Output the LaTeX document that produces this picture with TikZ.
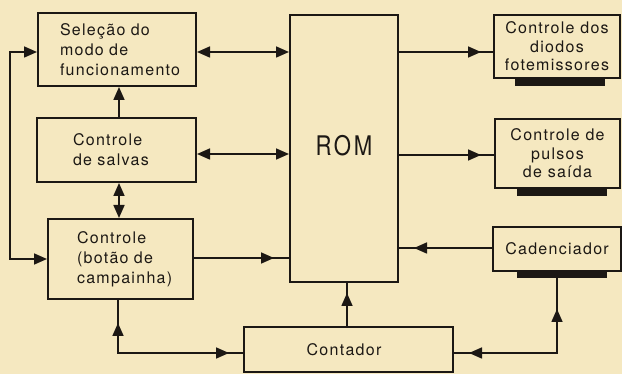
\documentclass[tikz,border=0pt]{standalone}
\usepackage{fontspec}
\usetikzlibrary{arrows.meta,calc,decorations.markings}
\newfontfamily\hv[LetterSpace=8]{TeX Gyre Heros}
\newfontfamily\hvrom[LetterSpace=12]{TeX Gyre Heros}
\definecolor{bg}{RGB}{245,232,192}
\definecolor{ink}{RGB}{28,24,20}
\tikzset{
  box/.style={draw=ink, line width=2pt, fill=bg, inner sep=0pt, text=ink},
  lbox/.style={box, align=left, font=\hv\fontsize{16}{20}\selectfont},
  cbox/.style={box, align=center, font=\hv\fontsize{16}{18.5}\selectfont},
  shadowbar/.style={fill=ink, draw=none, inner sep=0pt, outer sep=0pt, minimum width=90pt, minimum height=7pt, anchor=north},
  wire/.style={draw=ink, line width=1.6pt},
  midarrow/.style={postaction={decorate, decoration={markings, mark=at position #1 with {\arrow{>}}}}},
  midback/.style={postaction={decorate, decoration={markings, mark=at position #1 with {\arrowreversed{>}}}}},
}
\begin{document}
\begin{tikzpicture}[x=1pt, y=-1pt, >={Triangle[length=13pt,width=11pt]}]
\useasboundingbox (0,0) rectangle (622,374);
\fill[bg] (0,0) rectangle (622,374);

% left column
\node[lbox, text width=114pt, inner xsep=22pt, minimum height=73pt] (sel) at (117,49.5) {Seleção do\\modo de\\funcionamento};
\node[lbox, text width=87pt, inner xsep=36pt, minimum height=64pt] (sal) at (116.5,150) {Controle\\de salvas};
\node[lbox, text width=87pt, inner xsep=29pt, minimum height=80pt] (bot) at (120.5,259) {Controle\\(botão de\\campainha)};

% ROM
\node[box, minimum width=108pt, minimum height=267pt, font=\hvrom\fontsize{27}{27}\selectfont] (rom) at (344,148.5) {\raisebox{6pt}{\scalebox{0.82}[1]{ROM}}};

% right column
\node[cbox, minimum width=126pt, minimum height=63pt] (dio) at (557,46.5) {Controle dos\\diodos\\fotemissores};
\node[shadowbar] (diobar) at ($(dio.south)+(3,0)$) {};
\node[cbox, minimum width=125pt, minimum height=69pt] (pul) at (557.5,153.5) {Controle de\\pulsos\\de saída};
\node[shadowbar] (pulbar) at ($(pul.south)+(4,0)$) {};
\node[cbox, minimum width=128pt, minimum height=44pt] (cad) at (557,249) {Cadenciador};
\node[shadowbar, minimum height=6pt] (cadbar) at ($(cad.south)+(5,0)$) {};

% counter
\node[cbox, minimum width=209pt, minimum height=45pt] (con) at (348.5,349.5) {\hspace*{-9pt}Contador};

% connectors
\draw[wire, <->] (sel.east |- 0,52) -- (rom.west |- 0,52);
\draw[wire, <->] (sal.east |- 0,154) -- (rom.west |- 0,154);
\draw[wire, midarrow=-15pt] (bot.east |- 0,258) -- (rom.west |- 0,258);
\draw[wire, ->] (sal.north -| 119,0) -- (sel.south -| 119,0);
\draw[wire, <->] (sal.south -| 119,0) -- (bot.north -| 119,0);
\draw[wire, <->] (bot.west) -- (bot.west -| 10,0) |- (sel.west |- 0,52);
\draw[wire, midarrow=-12pt] (rom.east |- 0,52) -- (dio.west |- 0,52);
\draw[wire, midarrow=-13pt] (rom.east |- 0,155) -- (pul.west |- 0,155);
\draw[wire, midarrow=-15pt] (cad.west |- 0,248) -- (rom.east |- 0,248);
\draw[wire, midarrow=-10pt] (con.north -| 347,0) -- (rom.south -| 347,0);
\draw[wire, midback=23pt, midarrow=-14pt] (bot.south -| 118,0) -- (118,353) -- (con.west |- 0,353);
\draw[wire, midback=31pt, midarrow=-15pt] (cadbar.south -| cad.south) -- (cad.south |- 0,353) -- (con.east |- 0,353);
\end{tikzpicture}
\end{document}
